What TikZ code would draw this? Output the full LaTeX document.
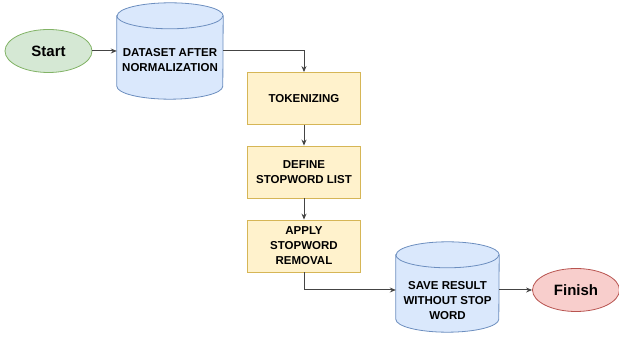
\documentclass[tikz,border=0pt]{standalone}
\usepackage{fontspec}
\setmainfont{Liberation Sans}
\usepackage{tikz}
\usetikzlibrary{shapes.geometric,arrows.meta}

\definecolor{greenfill}{HTML}{D5E8D4}
\definecolor{greenline}{HTML}{82B366}
\definecolor{bluefill}{HTML}{DAE8FC}
\definecolor{blueline}{HTML}{6C8EBF}
\definecolor{yellowfill}{HTML}{FFF2CC}
\definecolor{yellowline}{HTML}{D6B656}
\definecolor{redfill}{HTML}{F8CECC}
\definecolor{redline}{HTML}{B85450}
\definecolor{arrowgray}{HTML}{444444}

% cylinder outline round a named box node: #1 name, #2 half width (pt)
\newcommand{\drawdb}[2]{%
  \path[dbshape] ([yshift=-13pt]#1.north west) -- ([yshift=13pt]#1.south west)
    arc[start angle=180, end angle=360, x radius=#2pt, y radius=13pt]
    -- ([yshift=-13pt]#1.north east)
    arc[start angle=0, end angle=180, x radius=#2pt, y radius=13pt] -- cycle;
  \path[dbshape, fill=none] ([yshift=-13pt]#1.north west)
    arc[start angle=180, end angle=360, x radius=#2pt, y radius=13pt];
}

\begin{document}
\begin{tikzpicture}[
  x=1pt, y=1pt,
  terminal/.style={ellipse, draw, line width=0.8pt, minimum width=87pt, minimum height=43pt,
    font=\fontsize{15}{18}\selectfont\bfseries},
  dbbox/.style={rectangle, inner sep=0pt},
  dbshape/.style={draw=blueline, fill=bluefill, line width=0.8pt},
  process/.style={rectangle, draw=yellowline, fill=yellowfill, line width=0.8pt,
    minimum width=113pt, minimum height=52pt, align=center,
    font=\fontsize{11.5}{15}\selectfont\bfseries},
  dbtext/.style={align=center, font=\fontsize{11.5}{15}\selectfont\bfseries},
  flow/.style={draw=arrowgray, line width=1pt, -{Stealth[length=6pt,width=5pt]}}
]
\useasboundingbox (0,0) rectangle (619,337);

\node[terminal, draw=greenline, fill=greenfill] (start) at (48.5,286) {Start};
\node[dbbox, minimum width=106pt, minimum height=96pt] (dataset) at (170,286) {};
\drawdb{dataset}{53}
\node[dbtext] (datasetText) at (170,276.5) {DATASET AFTER\\NORMALIZATION};

\node[process] (tokenize) at (304,238.5) {TOKENIZING};
\node[process] (define) at (304,165) {DEFINE\\STOPWORD LIST};
\node[process] (apply) at (304,91) {APPLY\\STOPWORD\\REMOVAL};

\node[dbbox, minimum width=103pt, minimum height=90pt] (save) at (447.5,50) {};
\drawdb{save}{51.5}
\node[dbtext] (saveText) at (447.5,36) {SAVE RESULT\\WITHOUT STOP\\WORD};
\node[terminal, draw=redline, fill=redfill] (finish) at (576,47) {Finish};

% connectors
\draw[flow] (start) -- (dataset.west |- start);
\draw[flow] (dataset.east |- start) -| (tokenize.north);
\draw[flow] (tokenize) -- (define);
\draw[flow] (define) -- (apply);
\draw[flow] (apply.south) |- (save.west |- finish);
\draw[flow] (save.east |- finish) -- (finish);
\end{tikzpicture}
\end{document}
